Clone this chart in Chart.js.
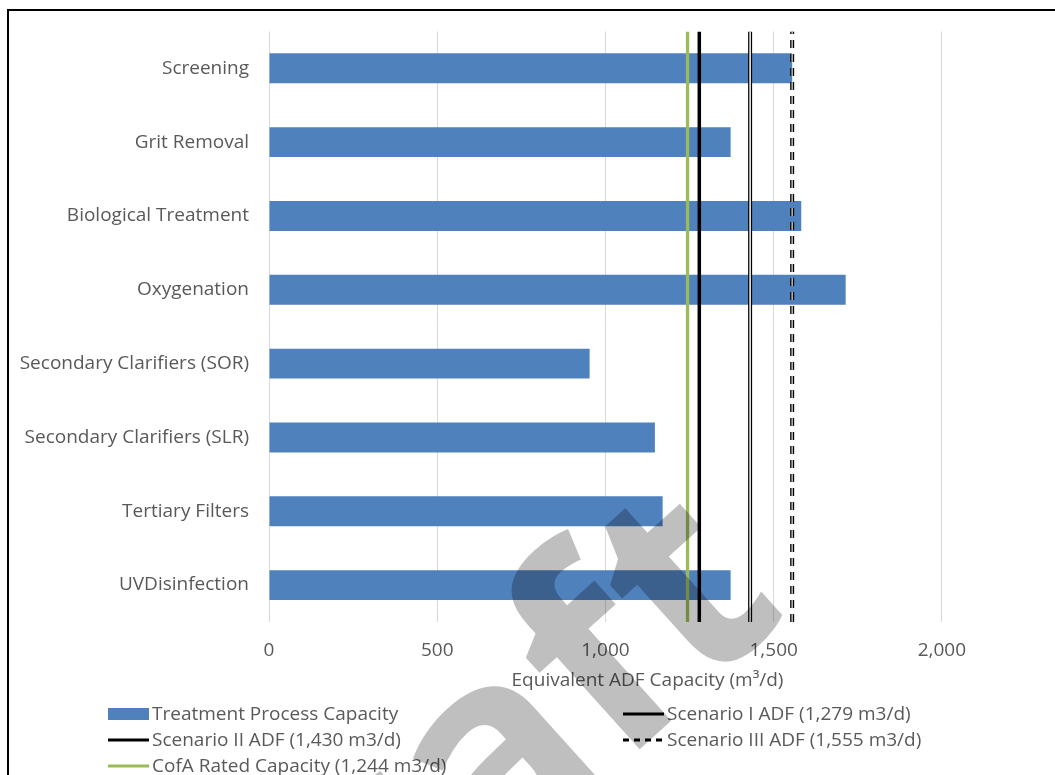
<!DOCTYPE html>
<html>
<head>
<meta charset="utf-8">
<script src="https://cdn.jsdelivr.net/npm/chart.js@4"></script>
<style>
  html, body { margin: 0; padding: 0; background: #fff; overflow: hidden; }
  #moldura { position: absolute; left: 7px; top: 9px; width: 1200px; height: 900px; border: 2px solid #000; }
  #caixa { position: absolute; left: 0; top: 0; width: 1055px; height: 775px; }
</style>
</head>
<body>
<div id="moldura"></div>
<div id="caixa"><canvas id="grafico"></canvas></div>
<script>
// Dados do gráfico
const categorias = [
  "Screening",
  "Grit Removal",
  "Biological Treatment",
  "Oxygenation",
  "Secondary Clarifiers (SOR)",
  "Secondary Clarifiers (SLR)",
  "Tertiary Filters",
  "UVDisinfection",
];
const capacidade = [1555, 1372, 1582, 1714, 953, 1147, 1170, 1372];

const cenarioI = 1279;
const cenarioII = 1430;
const cenarioIII = 1555;
const cofaNominal = 1244;

const ticksX = [0, 500, 1000, 1500, 2000];

const corTexto = "#595959";
const fonte = { family: "'Open Sans', sans-serif", size: 19 };

// linha vertical de cima a baixo na área do gráfico (eixo y2 vai de 0 a 1)
const linhaVertical = (valor) => [{ x: valor, y: 0 }, { x: valor, y: 1 }];

const ctx = document.getElementById("grafico");

// Legenda em duas colunas + marca d'água "Draft"
const legendaPlugin = {
  id: "legendaPlugin",
  afterDraw(chart) {
    const c = chart.ctx;
    const itens = chart.data.datasets.filter((d) => !d.semLegenda);
    c.save();
    c.font = "19px 'Open Sans'";
    c.textBaseline = "middle";
    itens.forEach((d, i) => {
      const x = i % 2 === 0 ? 108 : 623;
      const y = 714 + Math.floor(i / 2) * 26;
      if (d.type === "bar") {
        c.fillStyle = d.backgroundColor;
        c.fillRect(x, y - 6, 41, 12);
      } else {
        c.strokeStyle = d.borderColor;
        c.lineWidth = 3;
        c.setLineDash(d.legendaDash || []);
        c.beginPath();
        c.moveTo(x, y);
        c.lineTo(x + 41, y);
        c.stroke();
        c.setLineDash([]);
      }
      c.fillStyle = corTexto;
      c.fillText(d.label, x + 44, y + 1);
    });
    c.restore();

    c.save();
    c.translate(792, 612);
    c.rotate((-42 * Math.PI) / 180);
    c.font = "bold 285px 'Open Sans'";
    c.fillStyle = "rgba(0, 0, 0, 0.25)";
    c.textAlign = "right";
    c.textBaseline = "alphabetic";
    c.fillText("Draft", 0, 0);
    c.restore();
  },
};

const chart = new Chart(ctx, {
  type: "bar",
  data: {
    labels: categorias,
    datasets: [
      {
        type: "bar",
        label: "Treatment Process Capacity",
        data: capacidade,
        backgroundColor: "#4f81bd",
        indexAxis: "y",
        xAxisID: "x",
        yAxisID: "y",
        grouped: false,
        barPercentage: 0.405,
        categoryPercentage: 1,
        order: 10,
      },
      {
        type: "line",
        label: "Scenario I ADF (1,279 m3/d)",
        data: linhaVertical(cenarioI),
        borderColor: "#000000",
        borderWidth: 3.5,
        pointRadius: 0,
        indexAxis: "x",
        xAxisID: "x",
        yAxisID: "y2",
        order: 2,
      },
      {
        type: "line",
        label: "Scenario II ADF (1,430 m3/d)",
        data: linhaVertical(cenarioII),
        borderColor: "#000000",
        borderWidth: 4,
        pointRadius: 0,
        indexAxis: "x",
        xAxisID: "x",
        yAxisID: "y2",
        order: 2,
      },
      {
        type: "line",
        label: "Scenario III ADF (1,555 m3/d)",
        data: linhaVertical(cenarioIII),
        borderColor: "#000000",
        borderWidth: 4,
        borderDash: [8, 6],
        legendaDash: [6, 5],
        pointRadius: 0,
        indexAxis: "x",
        xAxisID: "x",
        yAxisID: "y2",
        order: 2,
      },
      {
        type: "line",
        label: "CofA Rated Capacity (1,244 m3/d)",
        data: linhaVertical(cofaNominal),
        borderColor: "#9bbb59",
        borderWidth: 3.3,
        pointRadius: 0,
        indexAxis: "x",
        xAxisID: "x",
        yAxisID: "y2",
        order: 2,
      },
      // miolo claro das linhas duplas (não aparece na legenda)
      {
        type: "line",
        label: "II miolo",
        semLegenda: true,
        data: linhaVertical(cenarioII),
        borderColor: "#ffffff",
        borderWidth: 1.5,
        pointRadius: 0,
        indexAxis: "x",
        xAxisID: "x",
        yAxisID: "y2",
        order: 1,
      },
      {
        type: "line",
        label: "III miolo",
        semLegenda: true,
        data: linhaVertical(cenarioIII),
        borderColor: "#bdbdbd",
        borderWidth: 1.5,
        borderDash: [8, 6],
        pointRadius: 0,
        indexAxis: "x",
        xAxisID: "x",
        yAxisID: "y2",
        order: 1,
      },
    ],
  },
  options: {
    indexAxis: "y",
    responsive: true,
    maintainAspectRatio: false,
    animation: false,
    locale: "en-US",
    layout: { padding: { left: 0, top: 29, right: 29, bottom: 73 } },
    plugins: {
      legend: { display: false },
      tooltip: { enabled: false },
    },
    scales: {
      x: {
        type: "linear",
        min: 0,
        max: 2250,
        afterBuildTicks: (s) => {
          s.ticks = ticksX.map((v) => ({ value: v }));
        },
        afterFit: (s) => {
          s.height = 80;
        },
        grid: { color: "#d9d9d9", drawTicks: false },
        border: { display: false },
        ticks: { padding: 17, color: corTexto, font: fonte },
        title: {
          display: true,
          text: "Equivalent ADF Capacity (m³/d)",
          color: corTexto,
          font: fonte,
          padding: { top: 0, bottom: 10 },
        },
      },
      y: {
        type: "category",
        offset: true,
        grid: { display: false, drawTicks: false },
        border: { display: false },
        ticks: { padding: 20, color: corTexto, font: fonte },
        afterFit: (s) => {
          s.width = 269;
        },
      },
      y2: {
        type: "linear",
        display: false,
        offset: false,
        grid: { offset: false },
        min: 0,
        max: 1,
      },
    },
  },
  plugins: [legendaPlugin],
});
</script>
</body>
</html>
